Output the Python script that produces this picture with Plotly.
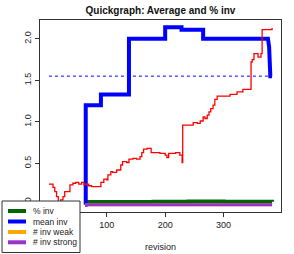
import plotly.graph_objects as go

# ---- data ----
mean_rev = [63, 64, 64, 90, 90, 138, 138, 200, 200, 228, 228, 265, 265, 376, 378, 380, 383]
mean_inv = [0, 0, 1.2, 1.2, 1.33, 1.33, 2.0, 2.0, 2.14, 2.14, 2.11, 2.11, 2.0, 2.0, 1.9, 1.55, 1.55]

red_rev = [1, 8, 11, 14, 17, 21, 25, 28, 33, 37, 42, 47, 52, 57, 61, 64, 69, 74, 90, 95, 100,
           102, 107, 110, 117, 124, 127, 134, 138, 145, 151, 157, 160, 163, 169, 176, 191, 200,
           203, 206, 218, 225, 229, 230, 248, 255, 260, 265, 268, 272, 275, 278, 282, 285, 289,
           311, 323, 333, 347, 349, 352, 359, 364, 366, 383]
red_val = [0.25, 0.21, 0.16, 0.10, 0.04, 0.06, 0.10, 0.16, 0.16, 0.24, 0.26, 0.27, 0.25, 0.27,
           0.24, 0.25, 0.23, 0.22, 0.27, 0.31, 0.30, 0.36, 0.40, 0.39, 0.42, 0.48, 0.52, 0.51,
           0.55, 0.56, 0.55, 0.58, 0.63, 0.67, 0.68, 0.63, 0.62, 0.60, 0.57, 0.62, 0.63, 0.60,
           0.51, 0.96, 0.99, 0.98, 1.01, 1.06, 1.04, 1.08, 1.12, 1.16, 1.20, 1.27, 1.31, 1.33,
           1.36, 1.39, 1.72, 1.75, 1.82, 1.78, 1.82, 2.11, 2.13]

avg_level = 1.55
avg_rev = [1, 383]

pct_rev = [63, 120, 180, 240, 300, 383]
pct_inv = [0.035, 0.035, 0.038, 0.040, 0.038, 0.036]

weak_rev = [63, 383]
weak_inv = [0, 0]
strong_rev = [63, 383]
strong_inv = [0, 0]

legend_labels = ["% inv", "mean inv", "# inv weak", "# inv strong"]
legend_colors = ["#006400", "#0000ff", "#ffa500", "#9932cc"]

x_ticks = [100, 200, 300]          # the 0 tick is hidden behind the legend in the reference
y_ticks = [0.0, 0.5, 1.0, 1.5, 2.0]
y_tick_text = ["0.0", "0.5", "1.0", "1.5", "2.0"]

# ---- figure ----
fig = go.Figure()
fig.add_trace(go.Scatter(x=pct_rev, y=pct_inv, mode="lines", line=dict(color=legend_colors[0], width=4, shape="hv")))
fig.add_trace(go.Scatter(x=mean_rev, y=mean_inv, mode="lines", line=dict(color=legend_colors[1], width=4)))
fig.add_trace(go.Scatter(x=weak_rev, y=weak_inv, mode="lines", line=dict(color=legend_colors[2], width=3)))
fig.add_trace(go.Scatter(x=strong_rev, y=strong_inv, mode="lines", line=dict(color=legend_colors[3], width=3)))
fig.add_trace(go.Scatter(x=avg_rev, y=[avg_level, avg_level], mode="lines", line=dict(color="#0000ff", width=1, dash="dot")))
fig.add_trace(go.Scatter(x=red_rev, y=red_val, mode="lines", line=dict(color="#ff0000", width=1.3, shape="hv")))

W, H = 294, 254
L, R, T, B = 40, 281, 20, 212

def px(xp):
    return (xp - L) / (R - L)

def py(yp):
    return (B - yp) / (B - T)

shapes = []
annotations = []
# legend box
shapes.append(dict(type="rect", xref="paper", yref="paper", x0=px(2), x1=px(80), y0=py(252.5), y1=py(201),
                   fillcolor="white", line=dict(color="#333333", width=1), layer="above"))
ys = [211, 221.5, 232, 242.3]
for lab, col, yy in zip(legend_labels, legend_colors, ys):
    shapes.append(dict(type="line", xref="paper", yref="paper", x0=px(8), x1=px(26), y0=py(yy), y1=py(yy),
                       line=dict(color=col, width=4), layer="above"))
    annotations.append(dict(text=lab, xref="paper", yref="paper", x=px(32), y=py(yy), xanchor="left",
                            yanchor="middle", showarrow=False, font=dict(size=8.5, color="#222222"),
                            borderpad=0))
annotations.append(dict(text="revision", xref="paper", yref="paper", x=px(160), y=py(247), xanchor="center",
                        yanchor="middle", showarrow=False, font=dict(size=9, color="#222222")))

fig.update_layout(
    width=W, height=H,
    margin=dict(l=L, r=W - R, t=T, b=H - B, pad=0, autoexpand=False),
    paper_bgcolor="white", plot_bgcolor="white",
    showlegend=False,
    font=dict(family="Liberation Sans, Arial, sans-serif", size=9, color="#222222"),
    title=dict(text="<b>Quickgraph: Average and % inv</b>", x=0.5, xref="paper", xanchor="center",
               y=1 - 10 / H, yanchor="middle", font=dict(size=10, color="#111111"), automargin=False),
    shapes=shapes, annotations=annotations,
)
fig.update_xaxes(range=[-14.3, 398.3], tickvals=x_ticks, ticks="outside", ticklen=4, tickcolor="#333333",
                 showline=True, mirror=True, linecolor="#333333", linewidth=1, showgrid=False, zeroline=False,
                 automargin=False, tickfont=dict(size=9))
fig.update_yaxes(range=[-0.086, 2.226], tickvals=y_ticks, ticktext=y_tick_text,
                 ticks="outside", ticklen=4, tickcolor="#333333", tickangle=-90, automargin=False,
                 showline=True, mirror=True, linecolor="#333333", linewidth=1, showgrid=False, zeroline=False,
                 tickfont=dict(size=9))

fig.write_html("out.html", config={"displayModeBar": False})
with open("out.html", "r", encoding="utf-8") as f:
    html = f.read()
html = html.replace("<body>", '<body style="margin:0;padding:0;overflow:hidden">', 1)
with open("out.html", "w", encoding="utf-8") as f:
    f.write(html)
